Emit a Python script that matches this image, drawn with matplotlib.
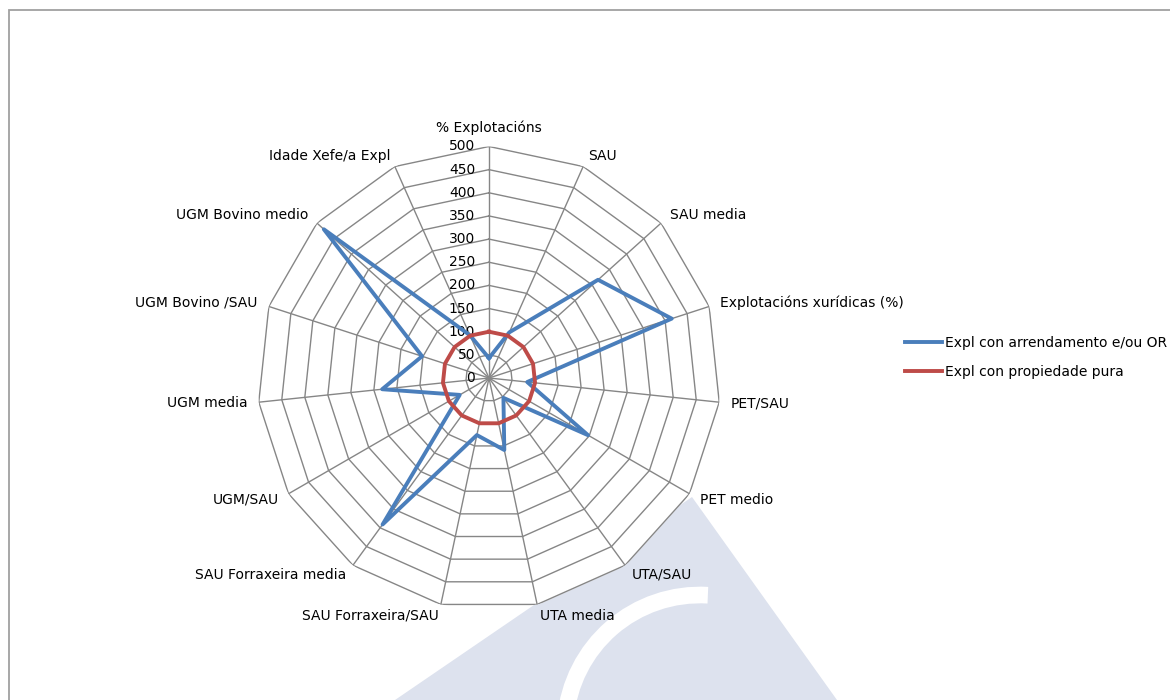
import numpy as np
import matplotlib
matplotlib.use('Agg')
import matplotlib.pyplot as plt
from matplotlib.patches import Polygon, Rectangle, Arc

# categories, clockwise from the top
categorias = ['% Explotacións', 'SAU', 'SAU media', 'Explotacións xurídicas (%)',
              'PET/SAU', 'PET medio', 'UTA/SAU', 'UTA media', 'SAU Forraxeira/SAU',
              'SAU Forraxeira media', 'UGM/SAU', 'UGM media', 'UGM Bovino /SAU',
              'UGM Bovino medio', 'Idade Xefe/a Expl']

arrendamento = [43, 108, 317, 415, 83, 247, 53, 159, 126, 391, 73, 232, 152, 480, 101]
propiedade = [100] * 15

rticks = [0, 50, 100, 150, 200, 250, 300, 350, 400, 450, 500]
rmax = 500

blue = '#4a7ebb'
red = '#be4b48'
grid = '#868686'

n = len(categorias)
theta = np.deg2rad(np.arange(n) * 360.0 / n)
theta_c = np.append(theta, theta[0])

fig = plt.figure(figsize=(11.7, 7), dpi=100)

# watermark behind the chart
wm = '#dde2ee'
fig.add_artist(Polygon([[692 / 1170, 1 - 497 / 700], [395 / 1170, 0], [837 / 1170, 0]],
                       closed=True, transform=fig.transFigure, color=wm, lw=0, zorder=-2))
fig.add_artist(Arc((700 / 1170, 1 - 730 / 700), 270 / 1170, 270 / 700, theta1=88, theta2=172,
                   transform=fig.transFigure, color='white', lw=12, zorder=-1))

# chart border
fig.add_artist(Rectangle((9 / 1170, -0.1), 1.2, 1.1 - 10 / 700, transform=fig.transFigure,
                         fill=False, edgecolor='#a0a0a0', lw=1.3, zorder=-1))

ax = fig.add_axes([257.5 / 1170, 90.5 / 700, 463 / 1170, 463 / 700], projection='polar')
ax.set_theta_zero_location('N')
ax.set_theta_direction(-1)
ax.set_ylim(0, rmax)
ax.patch.set_visible(False)
ax.spines['polar'].set_visible(False)
ax.grid(False)
ax.set_xticks([])
ax.set_yticks([])

# web
ax.fill(theta_c, [rmax] * (n + 1), color='white', zorder=0)
for r in rticks[1:]:
    ax.plot(theta_c, [r] * (n + 1), color=grid, lw=1, zorder=1)
for t in theta:
    ax.plot([t, t], [0, rmax], color=grid, lw=1, zorder=1)

# radial labels
for r in rticks:
    ax.annotate(str(r), (0, r), xytext=(-10, 0), textcoords='offset points',
                ha='right', va='center', fontsize=10, zorder=3)

# category labels
for t, lab in zip(theta, categorias):
    s = np.sin(t)
    if s > 0.1:
        ha = 'left'
    elif s < -0.1:
        ha = 'right'
    else:
        ha = 'center'
    va = 'bottom' if np.cos(t) > 0.95 else 'center'
    ax.text(t, rmax * 1.05, lab, ha=ha, va=va, fontsize=10, clip_on=False)

ax.plot(theta_c, arrendamento + arrendamento[:1], color=blue, lw=2.8, zorder=4,
        label='Expl con arrendamento e/ou OR')
ax.plot(theta_c, propiedade + propiedade[:1], color=red, lw=2.8, zorder=4,
        label='Expl con propiedade pura')

fig.legend(loc='upper left', bbox_to_anchor=(905 / 1170, 1 - 336 / 700), frameon=False,
           fontsize=10, handlelength=2.65, handletextpad=0.25, labelspacing=1.1,
           borderpad=0, borderaxespad=0)

fig.savefig('out.png', dpi=100)
